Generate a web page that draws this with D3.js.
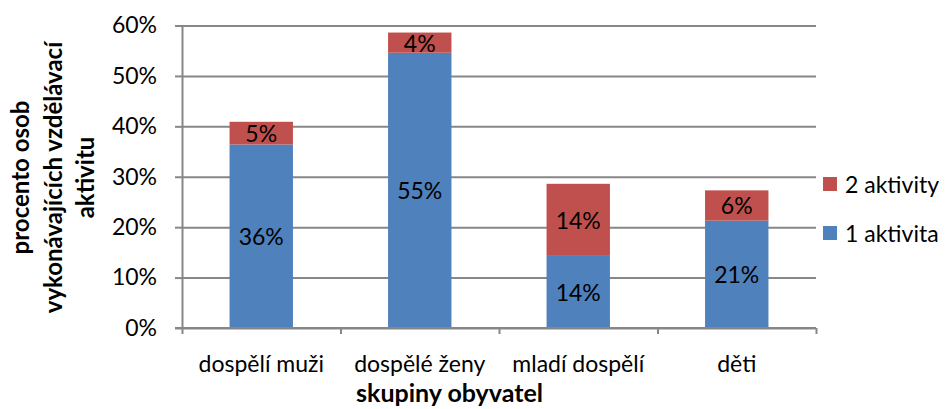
<!DOCTYPE html>
<html>
<head>
<meta charset="utf-8">
<script src="https://cdn.jsdelivr.net/npm/d3@7"></script>
<style>
  html, body { margin: 0; padding: 0; background: #fff; }
  svg { display: block; }
  text { font-family: Lato, "Open Sans", sans-serif; fill: #000; }
</style>
</head>
<body>
<div id="chart"></div>
<script>
const categories = ["dospělí muži", "dospělé ženy", "mladí dospělí", "děti"];
const oneActivity = [36.4, 54.6, 14.3, 21.3];
const twoActivities = [4.5, 4.0, 14.3, 6.0];
const seriesNames = ["1 aktivita", "2 aktivity"];
const seriesColors = ["#4F81BD", "#C0504D"];
const yTicks = [0, 10, 20, 30, 40, 50, 60];
const yTitleLines = ["procento osob", "vykonávajících vzdělávací", "aktivitu"];
const xTitle = "skupiny obyvatel";

(function () {
const W = 946, H = 409;
const plotLeft = 182, plotRight = 816, plotTop = 25.5, plotBottom = 328;
const gridColor = "#878787";

const svg = d3.select("#chart").append("svg").attr("width", W).attr("height", H);

const x = d3.scaleBand().domain(categories).range([plotLeft, plotRight]).paddingInner(0.6).paddingOuter(0.3);
const y = d3.scaleLinear().domain([0, 60]).range([plotBottom, plotTop]);

// gridlines
const grid = svg.append("g").attr("transform", `translate(${plotLeft},0)`)
  .call(d3.axisLeft(y).tickValues(yTicks).tickSize(-(plotRight - plotLeft)).tickFormat(""));
grid.select(".domain").remove();
grid.selectAll("line").attr("stroke", gridColor).attr("stroke-width", 2);

// y axis
const yAxis = svg.append("g").attr("transform", `translate(${plotLeft},0)`)
  .call(d3.axisLeft(y).tickValues(yTicks).tickSize(7).tickSizeOuter(0).tickPadding(18).tickFormat(d => d + "%"));
yAxis.select(".domain").attr("stroke", gridColor).attr("stroke-width", 2);
yAxis.selectAll("line").attr("stroke", gridColor).attr("stroke-width", 2);
yAxis.selectAll("text").style("font-size", "23px").style("font-family", "Lato, sans-serif").attr("fill", "#000");

// stacked data
const stackData = categories.map((c, i) => ({ cat: c, one: oneActivity[i], two: twoActivities[i] }));
const series = d3.stack().keys(["one", "two"])(stackData);

const layers = svg.append("g").selectAll("g").data(series).join("g")
  .attr("fill", (d, i) => seriesColors[i]);
layers.selectAll("rect").data(d => d).join("rect")
  .attr("x", d => x(d.data.cat))
  .attr("width", x.bandwidth())
  .attr("y", d => y(d[1]))
  .attr("height", d => y(d[0]) - y(d[1]));

// data labels
layers.selectAll("text").data(d => d).join("text")
  .attr("x", d => x(d.data.cat) + x.bandwidth() / 2)
  .attr("y", d => (y(d[0]) + y(d[1])) / 2)
  .attr("text-anchor", "middle")
  .attr("dominant-baseline", "central")
  .style("font-size", "23px")
  .style("fill", "#000")
  .text(d => Math.round(d[1] - d[0]) + "%");

// x axis
const xEdges = d3.scaleLinear().domain([0, categories.length]).range([plotLeft, plotRight]);
const xAxis = svg.append("g").attr("transform", `translate(0,${plotBottom})`)
  .call(d3.axisBottom(xEdges).tickValues(d3.range(categories.length + 1)).tickSize(6).tickSizeOuter(0).tickFormat(""));
xAxis.select(".domain").attr("stroke", gridColor).attr("stroke-width", 2)
  .attr("d", `M${plotLeft - 7},0H${plotRight}`);
xAxis.selectAll("line").attr("stroke", gridColor).attr("stroke-width", 2);

svg.append("g").selectAll("text").data(categories).join("text")
  .attr("x", d => x(d) + x.bandwidth() / 2)
  .attr("y", 372)
  .attr("text-anchor", "middle")
  .style("font-size", "23px")
  .text(d => d);

// x title
svg.append("text")
  .attr("x", 449.5).attr("y", 402)
  .attr("text-anchor", "middle")
  .style("font-size", "25px").style("font-weight", "bold")
  .text(xTitle);

// y title
const yBase = [29, 61.5, 93.5];
svg.append("g").selectAll("text").data(yTitleLines).join("text")
  .attr("transform", (d, i) => `translate(${yBase[i]},177.5) rotate(-90)`)
  .attr("text-anchor", "middle")
  .style("font-size", "24px").style("font-weight", "bold")
  .text(d => d);

// legend (reverse order: 2 aktivity on top)
const legendItems = [1, 0];
const legendY = [184, 233];
const lg = svg.append("g").selectAll("g").data(legendItems).join("g")
  .attr("transform", (d, i) => `translate(823,${legendY[i]})`);
lg.append("rect").attr("x", 0).attr("y", -7).attr("width", 14).attr("height", 14)
  .attr("fill", d => seriesColors[d]);
lg.append("text").attr("x", 22).attr("y", 0).attr("dominant-baseline", "central")
  .style("font-size", "23px").text(d => seriesNames[d]);
})();
</script>
</body>
</html>
